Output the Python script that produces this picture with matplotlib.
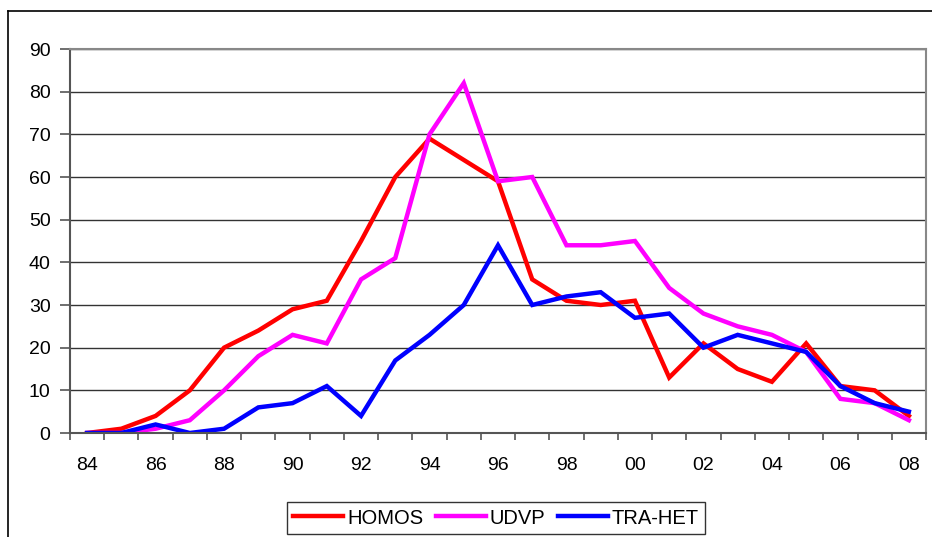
import numpy as np
import matplotlib
matplotlib.use("Agg")
import matplotlib.pyplot as plt
from matplotlib.lines import Line2D

plt.rcParams['font.family'] = ['Liberation Sans', 'DejaVu Sans']

years = ["84", "85", "86", "87", "88", "89", "90", "91", "92", "93", "94", "95", "96",
         "97", "98", "99", "00", "01", "02", "03", "04", "05", "06", "07", "08"]
homos = [0, 1, 4, 10, 20, 24, 29, 31, 45, 60, 69, 64, 59,
         36, 31, 30, 31, 13, 21, 15, 12, 21, 11, 10, 4]
udvp = [0, 0, 1, 3, 10, 18, 23, 21, 36, 41, 70, 82, 59,
        60, 44, 44, 45, 34, 28, 25, 23, 19, 8, 7, 3]
trahet = [0, 0, 2, 0, 1, 6, 7, 11, 4, 17, 23, 30, 44,
          30, 32, 33, 27, 28, 20, 23, 21, 19, 11, 7, 5]

x = np.arange(len(years))

fig = plt.figure(figsize=(9.32, 5.37), dpi=100)
ax = fig.add_axes([70/932, 1 - 433/537, 856/932, 384/537])

ax.plot(x, homos, color='#FF0000', lw=3.2, label='HOMOS', solid_joinstyle='miter')
ax.plot(x, udvp, color='#FF00FF', lw=3.2, label='UDVP', solid_joinstyle='miter')
ax.plot(x, trahet, color='#0000FF', lw=3.2, label='TRA-HET', solid_joinstyle='miter')

ax.set_xlim(-0.5, len(years) - 0.5)
ax.set_ylim(0, 90)
ax.set_yticks(np.arange(0, 91, 10))
ax.yaxis.grid(True, color='#333333', lw=1)
ax.set_axisbelow(True)

# labels every second year, tick marks between categories
ax.set_xticks(x[::2])
ax.set_xticklabels(years[::2])
ax.set_xticks(np.arange(-0.5, len(years)), minor=True)
ax.tick_params(axis='x', which='major', length=0, pad=17, labelsize=14)
ax.tick_params(axis='x', which='minor', length=5, width=1.2, color='#555555', direction='out')
ax.tick_params(axis='y', length=7, width=1.2, color='#555555', pad=7, labelsize=14)

for s in ['left', 'bottom']:
    ax.spines[s].set_color('#555555')
    ax.spines[s].set_linewidth(1.5)
for s in ['top', 'right']:
    ax.spines[s].set_color('#888888')
    ax.spines[s].set_linewidth(1.5)

leg = ax.legend(loc='center', bbox_to_anchor=(496/932, 1 - 518/537),
                bbox_transform=fig.transFigure, ncol=3, frameon=True,
                fancybox=False, fontsize=14.5, handlelength=2.5,
                handletextpad=0.2, columnspacing=0.6, borderpad=0.3)
leg.get_frame().set_edgecolor('black')
leg.get_frame().set_linewidth(1)

# outer chart border
fig.add_artist(Line2D([8/932, 8/932], [0, 1 - 11/537], color='black', lw=1.2,
                      transform=fig.transFigure))
fig.add_artist(Line2D([8/932, 1], [1 - 11/537, 1 - 11/537], color='black', lw=1.2,
                      transform=fig.transFigure))

fig.savefig('out.png', dpi=100)
